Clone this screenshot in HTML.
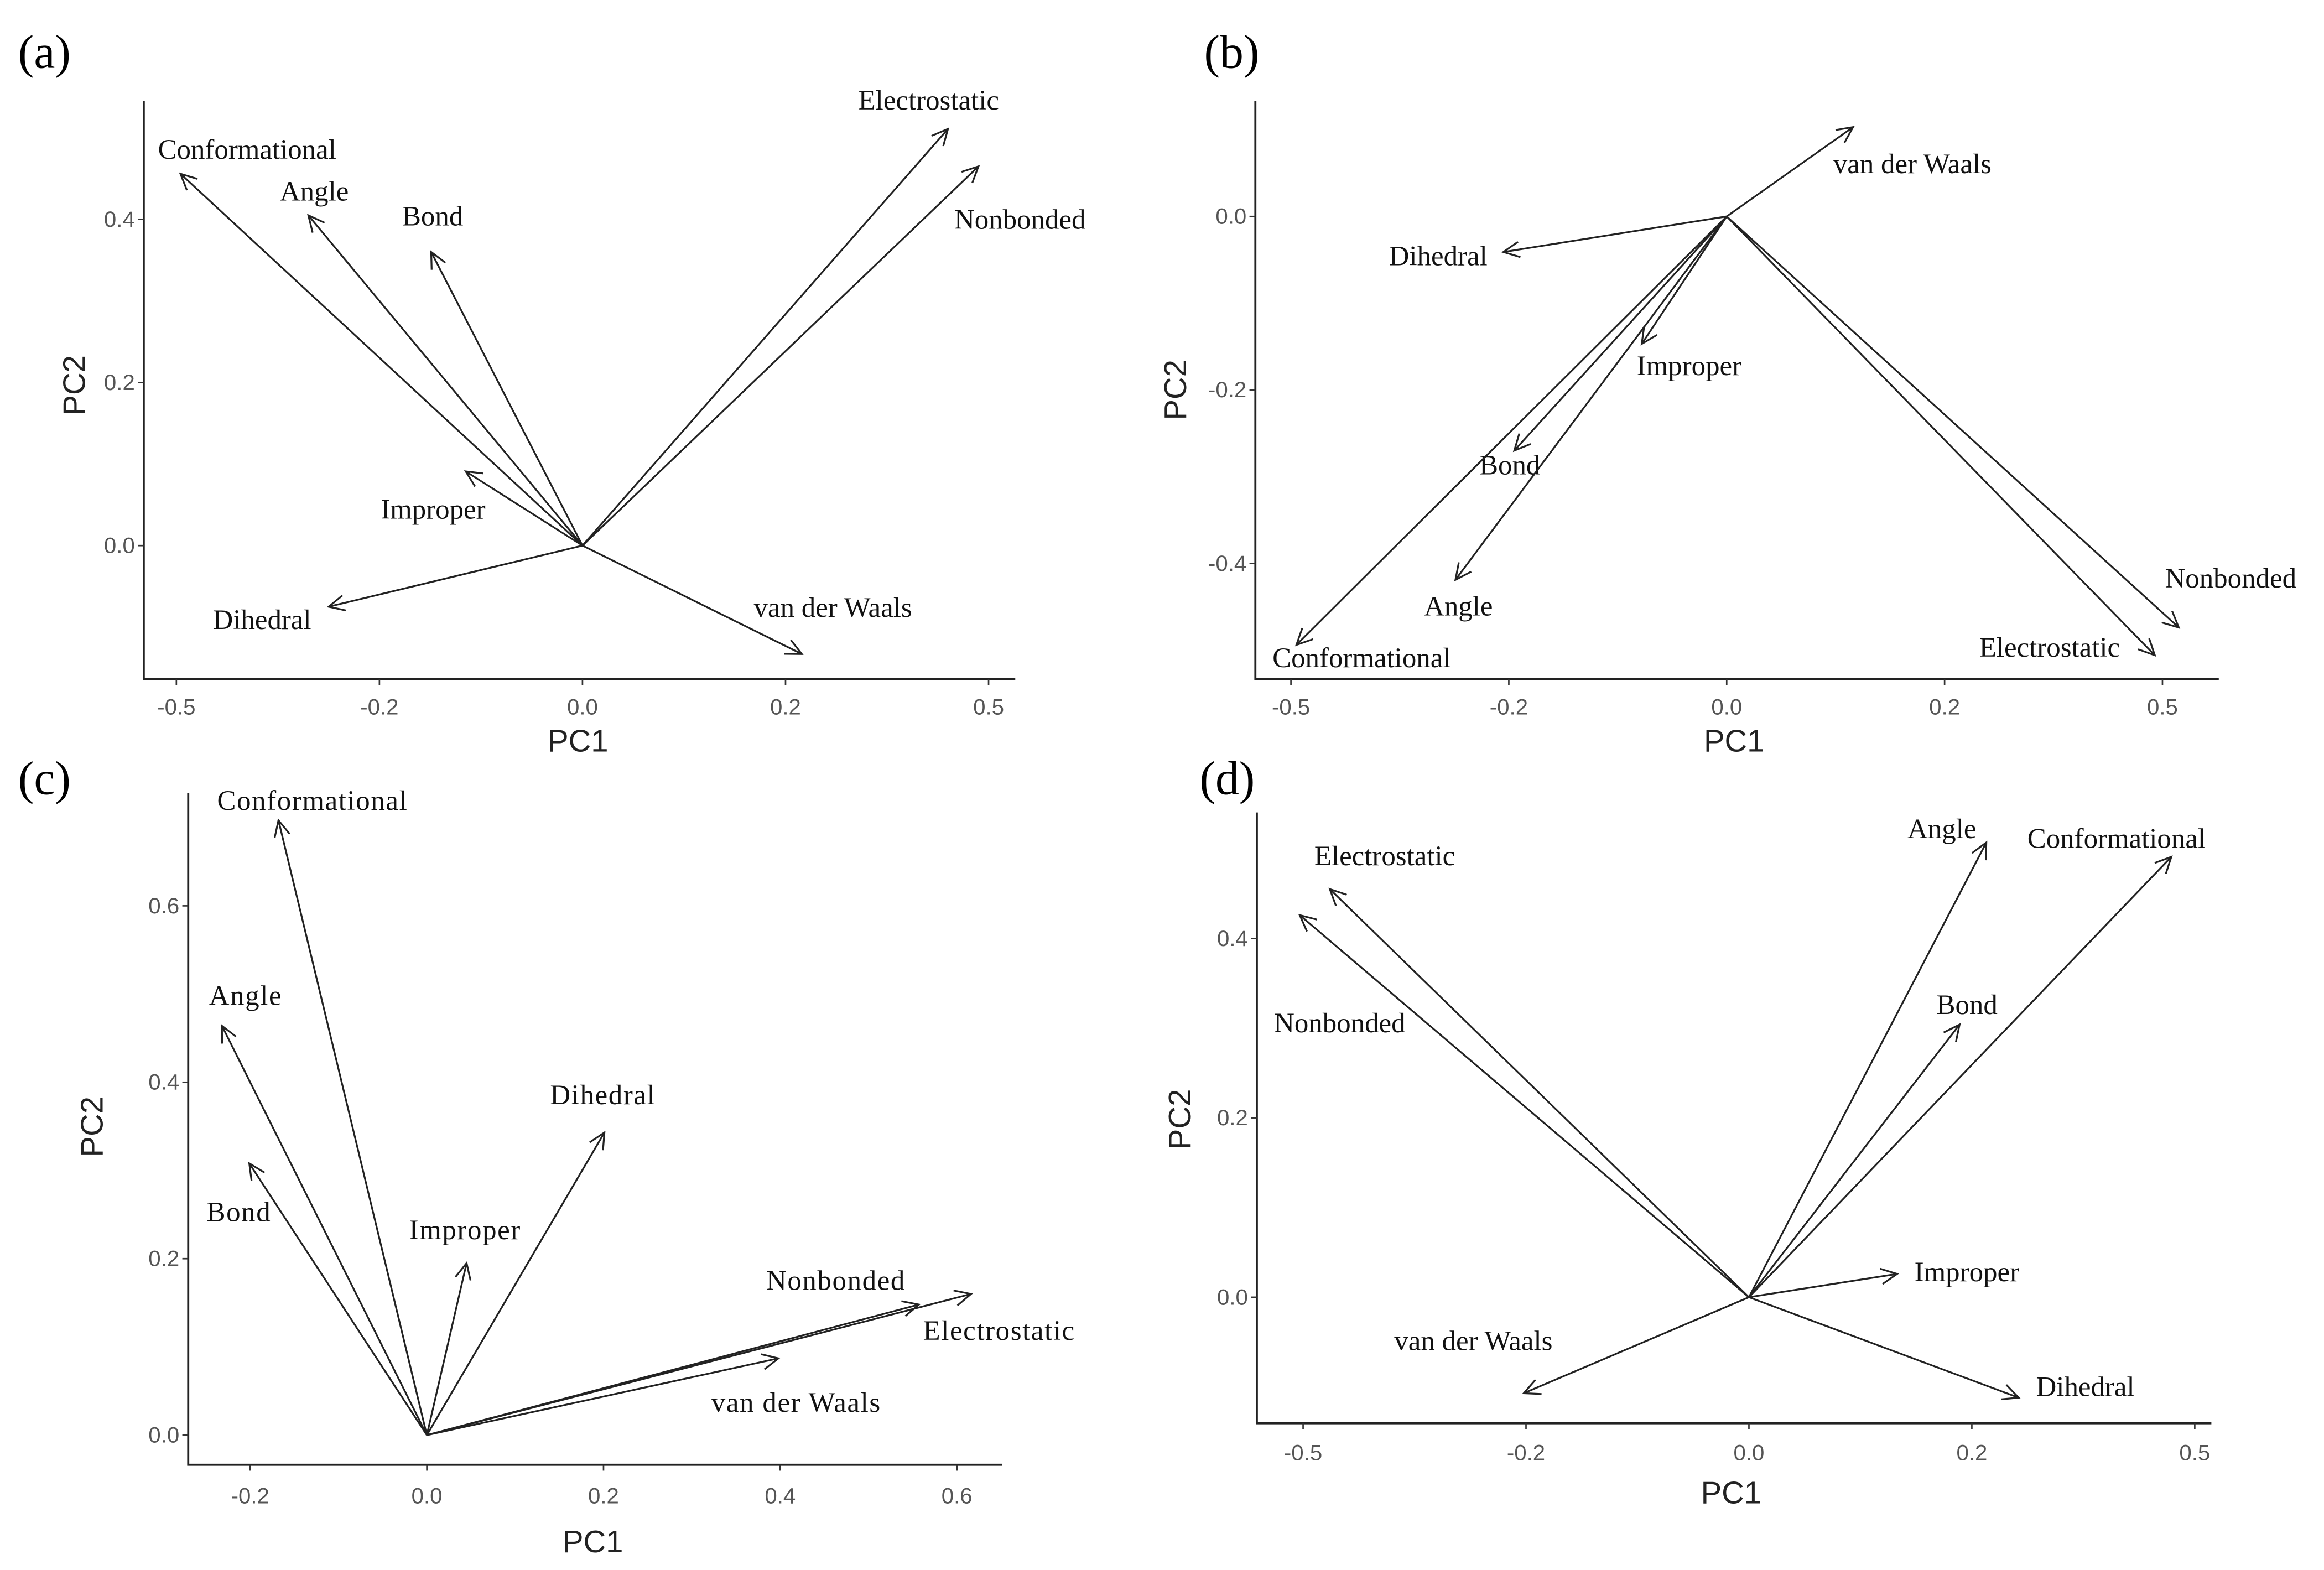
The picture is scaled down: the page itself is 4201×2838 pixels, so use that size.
<!DOCTYPE html>
<html><head><meta charset="utf-8">
<style>
html,body{margin:0;padding:0;background:#fff;}
svg{display:block;}
.lab{font-family:"Liberation Serif",serif;font-size:19px;fill:#111;}
.labc{font-family:"Liberation Serif",serif;font-size:19px;fill:#111;letter-spacing:0.6px;}
.tick{font-family:"Liberation Sans",sans-serif;font-size:15px;fill:#555;}
.ttl{font-family:"Liberation Sans",sans-serif;font-size:21px;fill:#222;}
.plet{font-family:"Liberation Serif",serif;font-size:32px;fill:#000;}
</style></head>
<body>
<svg id="chart" width="4201" height="2838" viewBox="0 0 1568 1059" preserveAspectRatio="none" xmlns="http://www.w3.org/2000/svg"></svg>
<script>
// ---- Panel (a) data ----
const aNames = ["Conformational","Angle","Bond","Improper","Dihedral","van der Waals","Electrostatic","Nonbonded"];
const aPC1 = [-0.396,-0.27,-0.149,-0.115,-0.25,0.216,0.36,0.39];
const aPC2 = [0.456,0.405,0.36,0.091,-0.075,-0.133,0.511,0.465];
const aXTicks = ["-0.5","-0.2","0.0","0.2","0.5"];
const aYTicks = ["0.0","0.2","0.4"];
// ---- Panel (b) data ----
const bNames = ["van der Waals","Dihedral","Improper","Bond","Angle","Conformational","Nonbonded","Electrostatic"];
const bPC1 = [0.116,-0.205,-0.078,-0.195,-0.249,-0.395,0.415,0.393];
const bPC2 = [0.103,-0.041,-0.147,-0.27,-0.419,-0.494,-0.474,-0.506];
const bXTicks = ["-0.5","-0.2","0.0","0.2","0.5"];
const bYTicks = ["-0.4","-0.2","0.0"];
// ---- Panel (c) data ----
const cNames = ["Conformational","Angle","Bond","Improper","Dihedral","Nonbonded","Electrostatic","van der Waals"];
const cPC1 = [-0.168,-0.232,-0.201,0.045,0.201,0.557,0.616,0.398];
const cPC2 = [0.697,0.464,0.308,0.195,0.343,0.148,0.16,0.087];
const cXTicks = ["-0.2","0.0","0.2","0.4","0.6"];
const cYTicks = ["0.0","0.2","0.4","0.6"];
// ---- Panel (d) data ----
const dNames = ["Electrostatic","Nonbonded","Angle","Conformational","Bond","Improper","Dihedral","van der Waals"];
const dPC1 = [-0.376,-0.403,0.213,0.379,0.189,0.133,0.242,-0.202];
const dPC2 = [0.455,0.426,0.507,0.491,0.304,0.026,-0.112,-0.107];
const dXTicks = ["-0.5","-0.2","0.0","0.2","0.5"];
const dYTicks = ["0.0","0.2","0.4"];

// layout (label offsets from arrow tip, px)
const aOff=[[45,-16],[4,-16],[1,-24],[-22,26],[-45,9],[21,-31],[-13,-19],[28,36]];
const bOff=[[40,25],[-44,3],[32,15],[-3,10],[2,18],[44,9],[35,-33],[-71,-5]];
const cOff=[[23,-13],[16,-20],[-7,33],[-1,-22],[-1,-25],[-56,-16],[19,25],[12,30]];
const dOff=[[37,-22],[27,73],[-30,-9],[-37,-12],[5,-13],[47,-1],[45,-7],[-34,-35]];

const NS="http://www.w3.org/2000/svg";
const svg=document.getElementById('chart');
function mk(tag,attrs,parent){const e=document.createElementNS(NS,tag);for(const k in attrs)e.setAttribute(k,attrs[k]);(parent||svg).appendChild(e);return e;}

const panels=[
 {id:'a',letter:'(a)',lx:30,ly:35,names:aNames,x:aPC1,y:aPC2,xt:aXTicks,yt:aYTicks,off:aOff,lc:'lab',
  ox:393,oy:368,sx:685,sy:550,xtv:[-0.4,-0.2,0,0.2,0.4],ytv:[0,0.2,0.4],
  axL:97,axR:685,axT:68,axB:458,tlY:477,xt1:[390,500],yt1:[50,260]},
 {id:'b',letter:'(b)',lx:831,ly:35,names:bNames,x:bPC1,y:bPC2,xt:bXTicks,yt:bYTicks,off:bOff,lc:'lab',
  ox:1165,oy:146,sx:735,sy:585,xtv:[-0.4,-0.2,0,0.2,0.4],ytv:[-0.4,-0.2,0],
  axL:847,axR:1497,axT:68,axB:458,tlY:477,xt1:[1170,500],yt1:[793,263]},
 {id:'c',letter:'(c)',lx:30,ly:525,names:cNames,x:cPC1,y:cPC2,xt:cXTicks,yt:cYTicks,off:cOff,lc:'labc',
  ox:288,oy:968,sx:596,sy:595,xtv:[-0.2,0,0.2,0.4,0.6],ytv:[0,0.2,0.4,0.6],
  axL:127,axR:676,axT:535,axB:988,tlY:1009,xt1:[400,1040],yt1:[62,760]},
 {id:'d',letter:'(d)',lx:828,ly:525,names:dNames,x:dPC1,y:dPC2,xt:dXTicks,yt:dYTicks,off:dOff,lc:'lab',
  ox:1180,oy:875,sx:752,sy:605,xtv:[-0.4,-0.2,0,0.2,0.4],ytv:[0,0.2,0.4],
  axL:848,axR:1492,axT:548,axB:960,tlY:980,xt1:[1168,1007],yt1:[796,755]}
];

panels.forEach(p=>{
  const g=mk('g',{});
  
  
  const X=v=>p.ox+v*p.sx, Y=v=>p.oy-v*p.sy;
  const let_=mk('text',{x:p.lx,y:p.ly,'text-anchor':'middle','dominant-baseline':'central',class:'plet'},g);
  let_.textContent=p.letter;
  
  
  const ax=mk('path',{d:`M${p.axL},${p.axT}V${p.axB}H${p.axR}`,fill:'none',stroke:'#222','stroke-width':1.4},g);
  
  
  p.xtv.forEach((v,i)=>{
    mk('line',{x1:X(v),x2:X(v),y1:p.axB,y2:p.axB+4,stroke:'#333','stroke-width':1},g);
    const t=mk('text',{x:X(v),y:p.tlY+5,'text-anchor':'middle',class:'tick'},g);
    t.textContent=p.xt[i];
    
    
  });
  p.ytv.forEach((v,i)=>{
    mk('line',{x1:p.axL-4,x2:p.axL,y1:Y(v),y2:Y(v),stroke:'#333','stroke-width':1},g);
    const t=mk('text',{x:p.axL-6,y:Y(v)+5,'text-anchor':'end',class:'tick'},g);
    t.textContent=p.yt[i];
    
    
  });
  const xt=mk('text',{x:p.xt1[0],y:p.xt1[1]+7,'text-anchor':'middle',class:'ttl'},g);
  xt.textContent='PC1';
  
  
  const yt=mk('text',{x:p.yt1[0],y:p.yt1[1],'text-anchor':'middle','dominant-baseline':'central',class:'ttl',transform:`rotate(-90 ${p.yt1[0]} ${p.yt1[1]})`},g);
  yt.textContent='PC2';
  
  
  p.names.forEach((n,i)=>{
    const tx=X(p.x[i]), ty=Y(p.y[i]);
    const ang=Math.atan2(ty-p.oy,tx-p.ox), L=12, w=0.45;
    const h1=[tx-L*Math.cos(ang-w),ty-L*Math.sin(ang-w)];
    const h2=[tx-L*Math.cos(ang+w),ty-L*Math.sin(ang+w)];
    const ar=mk('path',{d:`M${p.ox},${p.oy}L${tx},${ty}M${h1[0]},${h1[1]}L${tx},${ty}L${h2[0]},${h2[1]}`,fill:'none',stroke:'#222','stroke-width':1.2},g);
    
    
    const lb=mk('text',{x:tx+p.off[i][0],y:ty+p.off[i][1],'text-anchor':'middle','dominant-baseline':'central',class:p.lc},g);
    lb.textContent=n;
    
    
  });
});
</script>
</body></html>
